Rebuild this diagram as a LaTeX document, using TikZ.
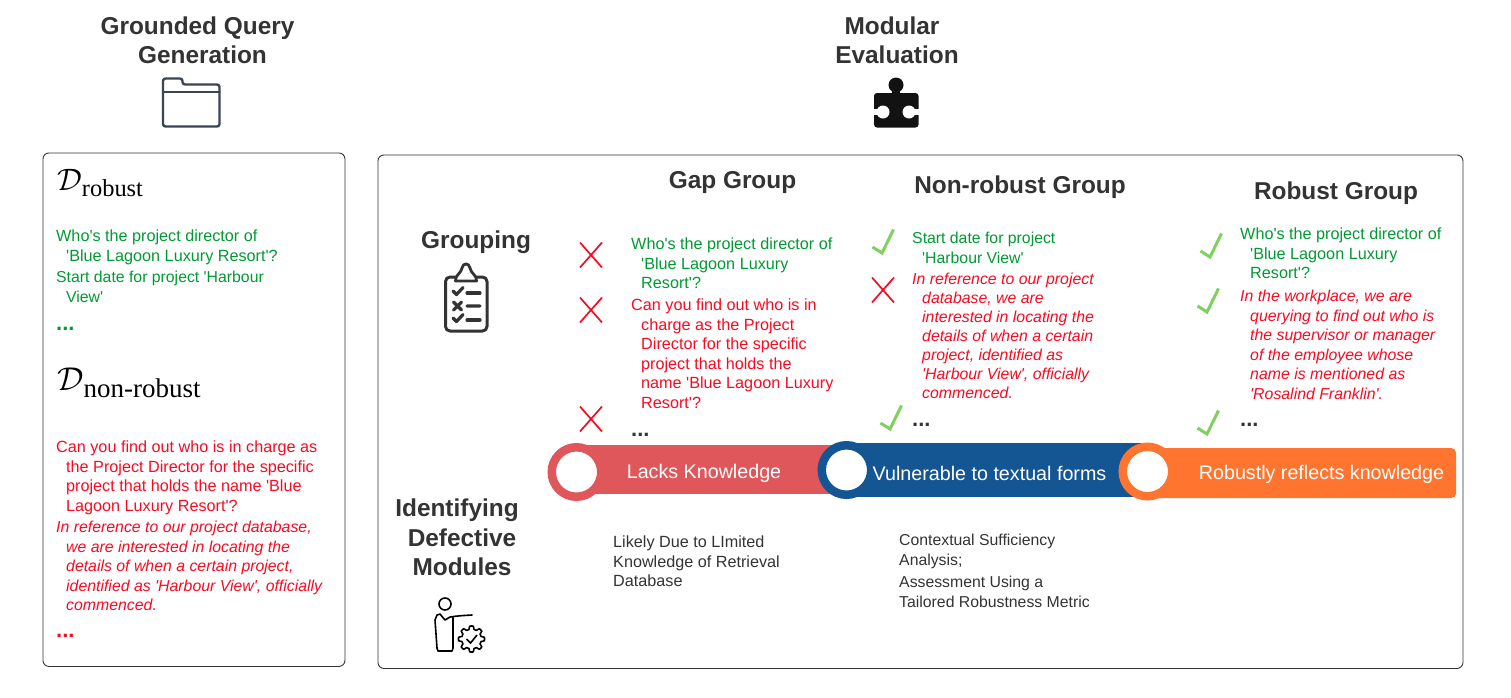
\documentclass[tikz,border=0pt]{standalone}
\usepackage{fontspec}
\setmainfont{Liberation Sans}
\newfontfamily\subfont{Liberation Serif}
\newfontfamily\bodyfont{Liberation Sans}

\definecolor{darktext}{HTML}{333333}
\definecolor{okgreen}{HTML}{009A33}
\definecolor{badred}{HTML}{F80A22}
\definecolor{tickgreen}{HTML}{7FD05F}
\definecolor{lacksred}{HTML}{E0575B}
\definecolor{vulnblue}{HTML}{145693}
\definecolor{robustorange}{HTML}{FF7530}
\definecolor{foldergrey}{HTML}{3A4554}

\newcommand{\hang}{\hspace*{10pt}}
\newcommand{\setname}[4]{\scalebox{#1}{$\mathcal{D}$}\raisebox{#3}{\subfont\fontsize{#2}{#2}\selectfont #4}}

\tikzset{
  panel/.style={draw=darktext, line width=0.9pt, rounded corners=6pt},
  heading/.style={inner sep=0pt, align=center, text=darktext,
    font=\fontsize{24.4}{29.5}\selectfont\bfseries},
  querytext/.style={inner sep=0pt, anchor=north west, align=left,
    font=\bodyfont\fontsize{16.2}{19.5}\selectfont},
  good/.style={querytext, text=okgreen},
  goodsmall/.style={good, font=\bodyfont\fontsize{15.8}{19.5}\selectfont},
  bad/.style={querytext, text=badred, font=\bodyfont\fontsize{15.85}{19.5}\selectfont\itshape},
  badtight/.style={querytext, text=badred, font=\bodyfont\fontsize{15.85}{19}\selectfont\itshape},
  badplain/.style={querytext, text=badred},
  note/.style={querytext, text=darktext},
  notesmall/.style={querytext, text=darktext, font=\bodyfont\fontsize{15.8}{19.5}\selectfont},
  dots/.style={inner sep=0pt, font=\fontsize{22}{22}\selectfont\bfseries},
  setlabel/.style={inner sep=0pt, anchor=base west, text=black},
  barbox/.style={inner sep=0pt, minimum height=#1},
  ring/.style={circle, inner sep=0pt, minimum size=49.5pt, fill=white, line width=8.5pt},
  barlabel/.style={inner sep=0pt, text=white, font=\fontsize{19.7}{24}\selectfont},
  iconline/.style={line width=2.4pt, line join=round, line cap=round},
  pics/wrongmark/.style={code={
    \draw[badred, line width=1.7pt] (-11,-12.5) -- (11,12.5) (11,-12.5) -- (-11,12.5);
  }},
  pics/rightmark/.style={code={
    \draw[tickgreen, line width=3pt] (-10.5,6) -- (-1,12) -- (10.5,-11.5);
  }},
  pics/smalltick/.style={code={
    \draw[iconline, darktext, line width=3.2pt] (-5,0) -- (-1.5,3.5) -- (5,-3.5);
    \draw[iconline, darktext, line width=3.2pt] (9,2) -- (22,2);
  }},
}

\begin{document}
\begin{tikzpicture}[x=1pt, y=-1pt]
  \useasboundingbox (0,0) rectangle (1511,697);

  \node[panel, minimum width=302pt, minimum height=513.5pt, anchor=north west] (genbox) at (42.5,152.5) {};
  \node[panel, minimum width=1085pt, minimum height=513.5pt, anchor=north west] (evalbox) at (377.5,154.5) {};

  \node[heading] (gentitle) at (202.5,40.5) {Grounded Query\hspace*{10pt}\\Generation};
  \node[heading] (evaltitle) at (897,40.5) {Modular\hspace*{10pt}\\Evaluation};
  \node[heading] (gapgroup) at (732.5,182.5) {Gap Group};
  \node[heading] (nonrobustgroup) at (1020,187) {Non-robust Group};
  \node[heading] (robustgroup) at (1336,193) {Robust Group};
  \node[heading] (grouping) at (476,242) {Grouping};
  \node[heading] (identifying) at (462,537.5) {Identifying\hspace*{10pt}\\Defective\\Modules};

  \draw[foldergrey, iconline, rounded corners=2.5pt] (163,92) -- (163,78.5) -- (182.5,78.5) -- (182.5,84.5)
    -- (219.5,84.5) -- (219.5,126.5) -- (163,126.5) -- (163,90);
  \draw[foldergrey, iconline] (163,92) -- (219.5,92);

  \fill[black!93, rounded corners=3pt] (874,93) -- (918.5,93) -- (918.5,127.5) -- (874,127.5) -- cycle;
  \fill[black!93] (896,85) circle (7.5);
  \fill[black!93] (892,88) rectangle (900,95);
  \fill[white] (883,112) circle (6.5);
  \fill[white] (873,109) rectangle (880,115);
  \fill[white] (909,112) circle (6.5);
  \fill[white] (912,109) rectangle (920,115);

  \draw[darktext, iconline, line width=3pt, rounded corners=4.5pt] (445.5,277) rectangle (487,331);
  \draw[darktext, iconline, fill=white, line width=2.8pt] (455.5,281) .. controls (455,275) and (460,275) .. (462,268)
    .. controls (463,262.5) and (469,262.5) .. (470,268) .. controls (472,275) and (477,275) .. (476.5,281) -- cycle;
  \pic at (458,291) {smalltick};
  \draw[darktext, line width=3.2pt, line cap=round] (453.5,302) -- (461.5,310) (461.5,302) -- (453.5,310) (467,306) -- (480,306);
  \pic at (458,318) {smalltick};

  \draw[black, line width=1.6pt] (445,604) circle (6);
  \draw[black, line width=1.6pt, line join=round, line cap=round] (472,615) .. controls (463,615.5) and (456,616) .. (450,617)
    -- (445,620) -- (440,614) -- (437,615) -- (435,620) -- (437,648) -- (438,651) -- (452,651) -- (453,648) -- (453,618);
  \draw[black, line width=1.6pt, line join=round] plot[samples=96, domain=0:356.25, variable=\t]
    ({471.5+(11.4+1.6*min(1,max(-1,2*cos(8*\t))))*cos(\t)}, {639+(11.4+1.6*min(1,max(-1,2*cos(8*\t))))*sin(\t)}) -- cycle;
  \draw[black, line width=1.6pt] (466.5,639) -- (470.5,643) -- (477,635);

  \node[setlabel] (robustname) at (57,190) {\setname{3.1}{24.4}{-6pt}{robust}};
  \node[setlabel] (nonrobustname) at (57,390) {\setname{3.3}{27}{-7pt}{non-robust}};

  \node[good] (robustqa) at (56,230) {Who's the project director of\\\hang'Blue Lagoon Luxury Resort'?};
  \node[goodsmall] (robustqb) at (56,271) {Start date for project 'Harbour\\\hang View'};
  \node[dots, text=okgreen, anchor=west] (robustdots) at (56,329) {...};
  \node[badplain] (nonrobustqa) at (56,441) {Can you find out who is in charge as\\\hang the Project Director for the specific\\\hang project that holds the name 'Blue\\\hang Lagoon Luxury Resort'?};
  \node[bad] (nonrobustqb) at (56,521) {In reference to our project database,\\\hang we are interested in locating the\\\hang details of when a certain project,\\\hang identified as 'Harbour View', officially\\\hang commenced.};
  \node[dots, text=badred, anchor=west] (nonrobustdots) at (56,636) {...};

  \node[good] (gapqa) at (631,238) {Who's the project director of\\\hang'Blue Lagoon Luxury\\\hang Resort'?};
  \node[badplain] (gapqb) at (631,299) {Can you find out who is in\\\hang charge as the Project\\\hang Director for the specific\\\hang project that holds the\\\hang name 'Blue Lagoon Luxury\\\hang Resort'?};
  \node[dots, text=darktext, anchor=west] (gapdots) at (631,435) {...};

  \node[goodsmall] (midqa) at (912,232) {Start date for project\\\hang 'Harbour View'};
  \node[badtight] (midqb) at (912,273) {In reference to our project\\\hang database, we are\\\hang interested in locating the\\\hang details of when a certain\\\hang project, identified as\\\hang 'Harbour View', officially\\\hang commenced.};
  \node[dots, text=darktext, anchor=west] (middots) at (912,425) {...};

  \node[good] (rightqa) at (1240,228) {Who's the project director of\\\hang'Blue Lagoon Luxury\\\hang Resort'?};
  \node[bad] (rightqb) at (1240,290) {In the workplace, we are\\\hang querying to find out who is\\\hang the supervisor or manager\\\hang of the employee whose\\\hang name is mentioned as\\\hang 'Rosalind Franklin'.};
  \node[dots, text=darktext, anchor=west] (rightdots) at (1240,425) {...};

  \pic at (591,255) {wrongmark};
  \pic at (591,310) {wrongmark};
  \pic at (591,419) {wrongmark};
  \pic at (883,290) {wrongmark};
  \pic at (883,241) {rightmark};
  \pic at (891,417) {rightmark};
  \pic at (1211,245) {rightmark};
  \pic at (1208,300) {rightmark};
  \pic at (1208,422) {rightmark};

  \node[barbox=48.5pt, fill=lacksred, minimum width=290pt, anchor=west] (lacksbar) at (576,469.5) {};
  \node[ring, draw=lacksred] (lacksring) at (576.5,472) {};
  \node[barbox=54pt, fill=vulnblue, minimum width=300pt, anchor=west] (vulnbar) at (846,470) {};
  \node[ring, draw=vulnblue] (vulnring) at (846.5,470) {};
  \node[barbox=50pt, fill=robustorange, rounded corners=5pt, minimum width=309pt, anchor=west] (robustbar) at (1147,473) {};
  \node[ring, draw=robustorange] (robustring) at (1147.5,471.5) {};

  \node[barlabel] (lackslabel) at (704,473) {Lacks Knowledge};
  \node[barlabel] (vulnlabel) at (989.5,473.5) {Vulnerable to textual forms};
  \node[barlabel] (robustlabel) at (1321.5,474) {Robustly reflects knowledge};

  \node[note] (gapnote) at (613,536) {Likely Due to LImited\\Knowledge of Retrieval\\Database};
  \node[notesmall] (midnotea) at (899,534) {Contextual Sufficiency\\Analysis;};
  \node[notesmall] (midnoteb) at (899,576) {Assessment Using a\\Tailored Robustness Metric};
\end{tikzpicture}
\end{document}
